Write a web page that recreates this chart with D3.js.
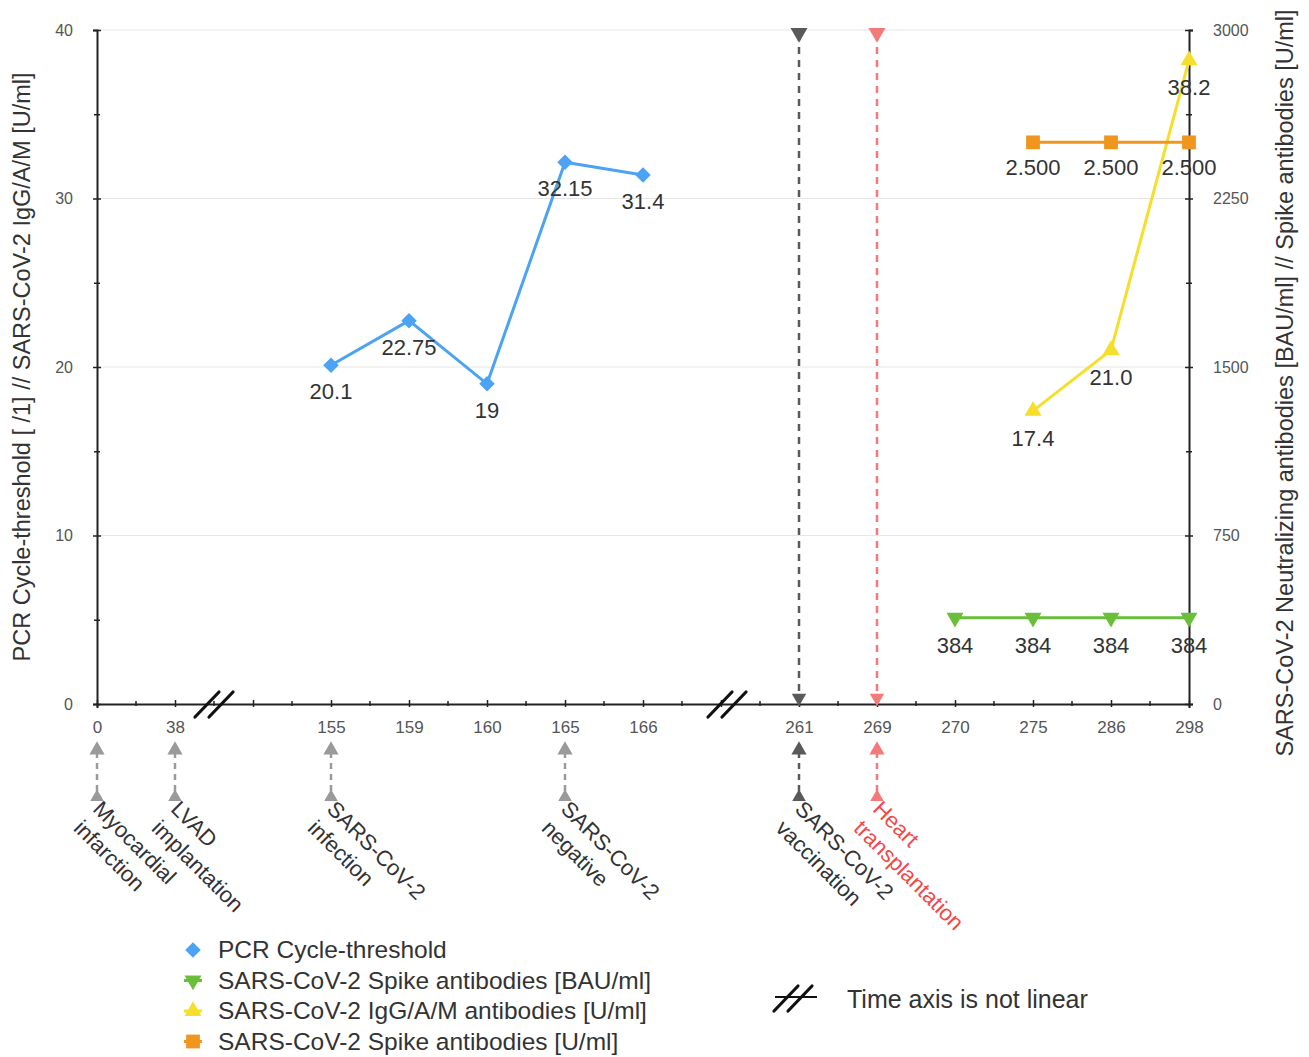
<!DOCTYPE html>
<html>
  <head>
    <script src="https://cdn.jsdelivr.net/npm/d3@7/dist/d3.min.js" charset="utf-8"></script>
    <style>
      body { margin: 0; background: #fff; }
      text { font-family: "Liberation Sans", Arial, sans-serif; }
    </style>
  </head>
  <body>
    <svg id="chart"></svg>
    <script>
      // time slots (axis is not linear, two empty slots carry the breaks)
      const slots = ["0", "38", "gapA", "155", "159", "160", "165", "166", "gapB", "261", "269", "270", "275", "286", "298"]
      const breakSlots = ["gapA", "gapB"]

      const pcrDays = ["155", "159", "160", "165", "166"]
      const pcrCt = [20.1, 22.75, 19, 32.15, 31.4]
      const pcrLabels = ["20.1", "22.75", "19", "32.15", "31.4"]

      const iggDays = ["275", "286", "298"]
      const iggVals = [17.4, 21.0, 38.2]
      const iggLabels = ["17.4", "21.0", "38.2"]

      const bauDays = ["270", "275", "286", "298"]
      const bauVals = [384, 384, 384, 384]
      const bauLabels = ["384", "384", "384", "384"]

      const spikeDays = ["275", "286", "298"]
      const spikeVals = [2500, 2500, 2500]
      const spikeLabels = ["2.500", "2.500", "2.500"]

      const leftTicks = [0, 10, 20, 30, 40]
      const leftMinor = [5, 15, 25, 35]
      const rightTicks = [0, 750, 1500, 2250, 3000]
      const rightMinor = [375, 1125, 1875, 2625]

      const eventDays = ["0", "38", "155", "165", "261", "269"]
      const eventLine1 = ["Myocardial", "LVAD", "SARS-CoV-2", "SARS-CoV-2", "SARS-CoV-2", "Heart"]
      const eventLine2 = ["infarction", "implantation", "infection", "negative", "vaccination", "transplantation"]
      const eventKind = ["past", "past", "past", "past", "vacc", "htx"]
      const markerDays = ["261", "269"]   // full-height dashed lines

      const legendNames = ["PCR Cycle-threshold", "SARS-CoV-2 Spike antibodies [BAU/ml]",
        "SARS-CoV-2 IgG/A/M antibodies [U/ml]", "SARS-CoV-2 Spike antibodies [U/ml]"]

      const W = 1309, H = 1057
      const margin = {top: 30, right: 120, bottom: 353, left: 97}
      const x0 = margin.left, x1 = W - margin.right, y0 = H - margin.bottom, y1 = margin.top

      const svg = d3.select("#chart").attr("width", W).attr("height", H)

      const xScale = d3.scalePoint().domain(slots).range([x0, x1])
      const yLeft = d3.scaleLinear().domain([0, 40]).range([y0, y1])
      const yRight = d3.scaleLinear().domain([0, 3000]).range([y0, y1])

      const col = {pcr: "#4da3f3", bau: "#6abf3a", igg: "#f5df2a", spike: "#f0961e",
        past: "#9a9a9a", vacc: "#5a5a5a", htx: "#f47a7a", htxText: "#f24848"}

      // gridlines
      svg.append("g").selectAll("line").data(leftTicks.filter(d => d > 0)).enter().append("line")
        .attr("x1", x0).attr("x2", x1).attr("y1", d => yLeft(d)).attr("y2", d => yLeft(d))
        .attr("stroke", "#e6e6e6").attr("stroke-width", 1)

      // left axis
      const gl = svg.append("g").attr("transform", `translate(${x0},0)`)
      gl.call(d3.axisLeft(yLeft).tickValues(leftTicks).tickSize(4).tickPadding(20))
      gl.select(".domain").attr("stroke", "#222").attr("stroke-width", 2)
      gl.selectAll(".tick line").attr("x1", -4).attr("x2", 4).attr("stroke", "#222").attr("stroke-width", 1.5)
      gl.selectAll(".tick text").attr("font-size", 16).attr("fill", "#555")
      const glm = svg.append("g").attr("transform", `translate(${x0},0)`)
      glm.call(d3.axisLeft(yLeft).tickValues(leftMinor).tickSize(3).tickFormat(""))
      glm.select(".domain").remove()
      glm.selectAll(".tick line").attr("x1", -3).attr("x2", 3).attr("stroke", "#222").attr("stroke-width", 1.5)

      // right axis
      const gr = svg.append("g").attr("transform", `translate(${x1},0)`)
      gr.call(d3.axisRight(yRight).tickValues(rightTicks).tickSize(4).tickPadding(20).tickFormat(d3.format("d")))
      gr.select(".domain").attr("stroke", "#222").attr("stroke-width", 2)
      gr.selectAll(".tick line").attr("x1", -4).attr("x2", 4).attr("stroke", "#222").attr("stroke-width", 1.5)
      gr.selectAll(".tick text").attr("font-size", 16).attr("fill", "#555")
      const grm = svg.append("g").attr("transform", `translate(${x1},0)`)
      grm.call(d3.axisRight(yRight).tickValues(rightMinor).tickSize(3).tickFormat(""))
      grm.select(".domain").remove()
      grm.selectAll(".tick line").attr("x1", -3).attr("x2", 3).attr("stroke", "#222").attr("stroke-width", 1.5)

      // x axis with major ticks at slots and minor ticks half way
      const gx = svg.append("g").attr("transform", `translate(0,${y0})`)
      gx.call(d3.axisBottom(xScale).tickSize(4).tickPadding(13)
        .tickFormat(d => breakSlots.includes(d) ? "" : d))
      gx.select(".domain").attr("stroke", "#222").attr("stroke-width", 2)
      gx.selectAll(".tick line").attr("y1", -4).attr("y2", 3).attr("stroke", "#222").attr("stroke-width", 1.5)
      gx.selectAll(".tick text").attr("font-size", 17).attr("fill", "#555")
      const half = xScale.step() / 2
      gx.append("g").selectAll("line").data(slots.slice(1)).enter().append("line")
        .attr("x1", d => xScale(d) - half).attr("x2", d => xScale(d) - half)
        .attr("y1", -3).attr("y2", 2).attr("stroke", "#222").attr("stroke-width", 1.5)

      // axis break marks "//"
      function breakMark(g, cx, cy, color) {
        [-7, 7].forEach(o => {
          g.append("line")
            .attr("x1", cx + o - 12).attr("y1", cy + 13)
            .attr("x2", cx + o + 12).attr("y2", cy - 12)
            .attr("stroke", color).attr("stroke-width", 3.2).attr("stroke-linecap", "round")
        })
      }
      breakMark(svg, (xScale("38") + xScale("gapA")) / 2, y0, "#111")
      breakMark(svg, xScale("gapB") + 6, y0, "#111")

      // axis titles
      svg.append("text")
        .attr("transform", `translate(30,${(y0 + y1) / 2}) rotate(-90)`)
        .attr("text-anchor", "middle").attr("font-size", 23.5).attr("fill", "#333")
        .text("PCR Cycle-threshold [ /1] // SARS-CoV-2 IgG/A/M [U/ml]")
      svg.append("text")
        .attr("transform", `translate(1293,383) rotate(-90)`)
        .attr("text-anchor", "middle").attr("font-size", 23.5).attr("fill", "#333")
        .text("SARS-CoV-2 Neutralizing antibodies [BAU/ml] // Spike antibodies [U/ml]")

      // markers
      const sym = {
        diamond: d3.symbol().type(d3.symbolSquare).size(120),
        down: d3.symbol().type(d3.symbolTriangle).size(125),
        up: d3.symbol().type(d3.symbolTriangle).size(125),
        square: d3.symbol().type(d3.symbolSquare).size(190)
      }
      const rot = {diamond: 45, down: 180, up: 0, square: 0}

      // full-height event lines
      markerDays.forEach(d => {
        const c = d === "269" ? col.htx : col.vacc
        const xx = xScale(d)
        svg.append("line").attr("x1", xx).attr("x2", xx).attr("y1", y1 + 4).attr("y2", y0 - 6)
          .attr("stroke", c).attr("stroke-width", 2.5).attr("stroke-dasharray", "7,6")
        svg.append("path").attr("d", sym.down()).attr("fill", c)
          .attr("transform", `translate(${xx},${y1 + 3}) rotate(180)`)
        svg.append("path").attr("d", d3.symbol().type(d3.symbolTriangle).size(90)()).attr("fill", c)
          .attr("transform", `translate(${xx},${y0 - 6}) rotate(180)`)
      })

      function series(days, vals, labels, scale, color, shape, dy) {
        const pts = days.map((d, i) => ({x: xScale(d), y: scale(vals[i]), lab: labels[i]}))
        const g = svg.append("g")
        g.append("path").attr("d", d3.line().x(p => p.x).y(p => p.y)(pts))
          .attr("fill", "none").attr("stroke", color).attr("stroke-width", 3)
        g.selectAll("path.m").data(pts).enter().append("path").attr("class", "m")
          .attr("d", sym[shape]()).attr("fill", color)
          .attr("transform", p => `translate(${p.x},${p.y}) rotate(${rot[shape]})`)
        g.selectAll("text").data(pts).enter().append("text")
          .attr("x", p => p.x).attr("y", p => p.y + dy)
          .attr("text-anchor", "middle").attr("font-size", 22).attr("fill", "#333")
          .text(p => p.lab)
      }
      series(pcrDays, pcrCt, pcrLabels, yLeft, col.pcr, "diamond", 34)
      series(bauDays, bauVals, bauLabels, yRight, col.bau, "down", 35)
      series(iggDays, iggVals, iggLabels, yLeft, col.igg, "up", 35)
      series(spikeDays, spikeVals, spikeLabels, yRight, col.spike, "square", 33)

      // event arrows and labels below the axis
      eventDays.forEach((d, i) => {
        const c = col[eventKind[i]]
        const xx = xScale(d)
        svg.append("line").attr("x1", xx).attr("x2", xx).attr("y1", 752).attr("y2", 796)
          .attr("stroke", c).attr("stroke-width", 2.5).attr("stroke-dasharray", "6,5")
        svg.append("path").attr("d", d3.symbol().type(d3.symbolTriangle).size(100)()).attr("fill", c)
          .attr("transform", `translate(${xx},750)`)
        svg.append("path").attr("d", d3.symbol().type(d3.symbolTriangle).size(80)()).attr("fill", c)
          .attr("transform", `translate(${xx},797)`)
        const tc = eventKind[i] === "htx" ? col.htxText : "#333"
        const t = svg.append("g").attr("transform", `translate(${xx + 6},799) rotate(45)`)
        t.append("text").attr("x", 0).attr("y", 16).attr("font-size", 22).attr("fill", tc).text(eventLine1[i])
        t.append("text").attr("x", 0).attr("y", 43).attr("font-size", 22).attr("fill", tc).text(eventLine2[i])
      })

      // legend
      const legShapes = ["diamond", "down", "up", "square"]
      const legCols = [col.pcr, col.bau, col.igg, col.spike]
      const lg = svg.append("g")
      legendNames.forEach((n, i) => {
        const yy = 950 + i * 30.5
        if (i > 0) lg.append("line").attr("x1", 184).attr("x2", 202).attr("y1", yy).attr("y2", yy)
          .attr("stroke", legCols[i]).attr("stroke-width", 3)
        lg.append("path").attr("d", sym[legShapes[i]]()).attr("fill", legCols[i])
          .attr("transform", `translate(193,${yy}) rotate(${rot[legShapes[i]]})`)
        lg.append("text").attr("x", 218).attr("y", yy + 8).attr("font-size", 24.5).attr("fill", "#333").text(n)
      })
      const bg = svg.append("g")
      bg.append("line").attr("x1", 775).attr("x2", 817).attr("y1", 997).attr("y2", 997)
        .attr("stroke", "#111").attr("stroke-width", 2)
      breakMark(bg, 793, 998, "#111")
      bg.append("text").attr("x", 847).attr("y", 1008).attr("font-size", 25).attr("fill", "#333")
        .text("Time axis is not linear")
    </script>
  </body>
</html>
